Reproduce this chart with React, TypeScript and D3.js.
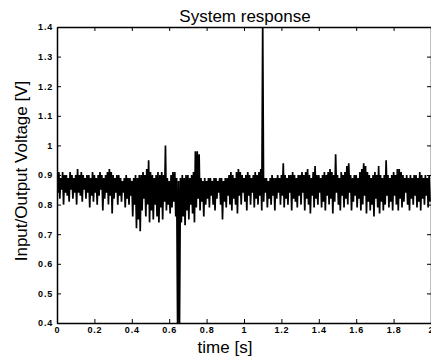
import React, { useRef, useEffect } from "react";
import { select, scaleLinear, axisLeft, axisBottom, axisTop, axisRight, line } from "d3";

// sample spacing of the recorded signal [s]
const sampleStep = 0.01;

// upper envelope of the noisy response, one value per sample
const upper = [
  0.90, 0.91, 0.89, 0.91, 0.90, 0.90, 0.89, 0.91, 0.90, 0.89,
  0.90, 0.92, 0.90, 0.91, 0.90, 0.89, 0.90, 0.90, 0.89, 0.91,
  0.90, 0.89, 0.90, 0.91, 0.90, 0.89, 0.90, 0.91, 0.92, 0.91,
  0.90, 0.89, 0.90, 0.90, 0.89, 0.88, 0.89, 0.90, 0.89, 0.89,
  0.88, 0.89, 0.90, 0.89, 0.90, 0.90, 0.91, 0.90, 0.92, 0.95,
  0.91, 0.90, 0.89, 0.90, 0.91, 0.90, 0.91, 0.90, 1.00, 0.89,
  0.88, 0.90, 0.91, 0.91, 0.89, 0.88, 0.89, 0.90, 0.89, 0.90,
  0.90, 0.89, 0.90, 0.91, 0.98, 0.98, 0.97, 0.89, 0.88, 0.89,
  0.88, 0.89, 0.89, 0.88, 0.89, 0.89, 0.88, 0.89, 0.89, 0.88,
  0.89, 0.89, 0.90, 0.91, 0.90, 0.89, 0.91, 0.92, 0.91, 0.90,
  0.89, 0.90, 0.91, 0.90, 0.89, 0.90, 0.91, 0.90, 0.91, 0.92,
  1.42, 0.89, 0.89, 0.88, 0.89, 0.90, 0.89, 0.89, 0.90, 0.89,
  0.90, 0.94, 0.90, 0.89, 0.90, 0.90, 0.91, 0.90, 0.89, 0.90,
  0.90, 0.91, 0.90, 0.91, 0.92, 0.90, 0.89, 0.91, 0.93, 0.90,
  0.90, 0.89, 0.90, 0.91, 0.90, 0.91, 0.92, 0.91, 0.90, 0.97,
  0.90, 0.89, 0.91, 0.90, 0.91, 0.93, 0.94, 0.90, 0.89, 0.90,
  0.90, 0.89, 0.91, 0.92, 0.94, 0.93, 0.91, 0.90, 0.89, 0.90,
  0.91, 0.90, 0.93, 0.90, 0.89, 0.90, 0.95, 0.90, 0.89, 0.90,
  0.91, 0.90, 0.92, 0.92, 0.91, 0.90, 0.89, 0.90, 0.89, 0.90,
  0.89, 0.90, 0.90, 0.89, 0.91, 0.90, 0.89, 0.90, 0.89, 0.90,
];

// lower envelope, taken half a sample later
const lower = [
  0.84, 0.82, 0.85, 0.80, 0.84, 0.83, 0.81, 0.85, 0.82, 0.84,
  0.80, 0.84, 0.83, 0.81, 0.85, 0.82, 0.84, 0.79, 0.83, 0.81,
  0.84, 0.80, 0.83, 0.85, 0.78, 0.82, 0.84, 0.80, 0.83, 0.77,
  0.82, 0.84, 0.80, 0.83, 0.81, 0.84, 0.79, 0.82, 0.80, 0.83,
  0.76, 0.80, 0.72, 0.75, 0.71, 0.78, 0.82, 0.76, 0.80, 0.74,
  0.78, 0.75, 0.80, 0.76, 0.74, 0.79, 0.75, 0.81, 0.78, 0.80,
  0.77, 0.79, 0.81, 0.76, 0.38, 0.38, 0.74, 0.76, 0.73, 0.78,
  0.75, 0.80, 0.77, 0.74, 0.79, 0.82, 0.78, 0.81, 0.76, 0.80,
  0.82, 0.79, 0.83, 0.80, 0.78, 0.82, 0.84, 0.80, 0.75, 0.81,
  0.79, 0.83, 0.80, 0.78, 0.82, 0.80, 0.77, 0.83, 0.80, 0.84,
  0.81, 0.78, 0.83, 0.80, 0.84, 0.79, 0.82, 0.80, 0.83, 0.78,
  0.81, 0.84, 0.79, 0.82, 0.80, 0.83, 0.78, 0.82, 0.84, 0.80,
  0.83, 0.79, 0.82, 0.80, 0.84, 0.78, 0.82, 0.81, 0.79, 0.83,
  0.80, 0.84, 0.78, 0.82, 0.80, 0.77, 0.83, 0.79, 0.82, 0.80,
  0.84, 0.79, 0.81, 0.78, 0.83, 0.80, 0.82, 0.77, 0.81, 0.84,
  0.80, 0.78, 0.83, 0.79, 0.82, 0.80, 0.84, 0.78, 0.81, 0.83,
  0.79, 0.82, 0.78, 0.80, 0.83, 0.77, 0.81, 0.78, 0.80, 0.76,
  0.82, 0.79, 0.77, 0.81, 0.78, 0.80, 0.83, 0.79, 0.81, 0.78,
  0.83, 0.80, 0.78, 0.82, 0.79, 0.81, 0.84, 0.80, 0.78, 0.82,
  0.80, 0.83, 0.79, 0.81, 0.78, 0.82, 0.80, 0.83, 0.79, 0.81,
];

const xTicks = [0, 0.2, 0.4, 0.6, 0.8, 1, 1.2, 1.4, 1.6, 1.8, 2];
const xTickLabels = ["0", "0.2", "0.4", "0.6", "0.8", "1", "1.2", "1.4", "1.6", "1.8", "2"];
const yTicks = [0.4, 0.5, 0.6, 0.7, 0.8, 0.9, 1, 1.1, 1.2, 1.3, 1.4];
const yTickLabels = ["0.4", "0.5", "0.6", "0.7", "0.8", "0.9", "1", "1.1", "1.2", "1.3", "1.4"];

const width = 431;
const height = 359;
const margin = { top: 27, right: 0, bottom: 36, left: 57 };
const font = "'Liberation Sans', Arial, sans-serif";

export default function App() {
  const svgRef = useRef<SVGSVGElement>(null);

  useEffect(() => {
    const svg = select(svgRef.current);
    svg.selectAll("*").remove();

    const xScale = scaleLinear().domain([0, 2]).range([margin.left, width - margin.right]);
    const yScale = scaleLinear().domain([0.4, 1.4]).range([height - margin.bottom, margin.top]);

    // zig-zag between the two envelopes so the trace fills the band
    const signal: [number, number][] = upper.flatMap((u, i) => [
      [i * sampleStep, u] as [number, number],
      [i * sampleStep + sampleStep / 2, lower[i]] as [number, number],
    ]);

    svg
      .append("clipPath")
      .attr("id", "plot-clip")
      .append("rect")
      .attr("x", margin.left)
      .attr("y", margin.top)
      .attr("width", width - margin.left - margin.right)
      .attr("height", height - margin.top - margin.bottom);

    svg
      .append("path")
      .datum(signal)
      .attr("clip-path", "url(#plot-clip)")
      .attr("fill", "none")
      .attr("stroke", "#000")
      .attr("stroke-width", 1.7)
      .attr("stroke-linejoin", "miter")
      .attr("d", line<[number, number]>().x((d) => xScale(d[0])).y((d) => yScale(d[1])));

    const styleAxis = (g) => {
      g.attr("font-family", font)
        .attr("font-size", 9)
        .attr("font-weight", "bold");
      g.selectAll("text").attr("fill", "#000").attr("letter-spacing", 0.8);
      g.selectAll("line").attr("stroke", "#000");
      g.select(".domain").attr("stroke", "#000").attr("stroke-width", 1.5);
    };

    svg
      .append("g")
      .attr("transform", `translate(${margin.left},0)`)
      .call(
        axisLeft(yScale)
          .tickValues(yTicks)
          .tickFormat((d, i) => yTickLabels[i])
          .tickSize(-4)
          .tickSizeOuter(0)
          .tickPadding(4)
      )
      .call(styleAxis);

    svg
      .append("g")
      .attr("transform", `translate(0,${height - margin.bottom})`)
      .call(
        axisBottom(xScale)
          .tickValues(xTicks)
          .tickFormat((d, i) => xTickLabels[i])
          .tickSize(-4)
          .tickSizeOuter(0)
          .tickPadding(4)
      )
      .call(styleAxis);

    svg
      .append("g")
      .attr("transform", `translate(0,${margin.top})`)
      .call(axisTop(xScale).tickValues(xTicks).tickFormat(() => "").tickSize(-4).tickSizeOuter(0))
      .call(styleAxis);

    svg
      .append("g")
      .attr("transform", `translate(${width - margin.right},0)`)
      .call(axisRight(yScale).tickValues(yTicks).tickFormat(() => "").tickSize(-4).tickSizeOuter(0))
      .call(styleAxis);

    svg
      .append("text")
      .attr("x", 245)
      .attr("y", 22)
      .attr("text-anchor", "middle")
      .attr("font-family", font)
      .attr("font-size", 17)
      .text("System response");

    svg
      .append("text")
      .attr("x", 225)
      .attr("y", 353)
      .attr("text-anchor", "middle")
      .attr("font-family", font)
      .attr("font-size", 17)
      .text("time [s]");

    svg
      .append("text")
      .attr("transform", `translate(27,171) rotate(-90)`)
      .attr("text-anchor", "middle")
      .attr("font-family", font)
      .attr("font-size", 17)
      .text("Input/Output Voltage [V]");
  }, []);

  return (
    <svg
      ref={svgRef}
      width={width}
      height={height}
      style={{ position: "absolute", left: 0, top: 0, background: "#fff" }}
    />
  );
}
